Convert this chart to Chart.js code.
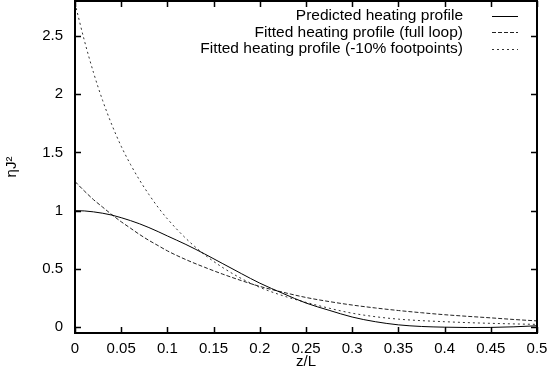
<!DOCTYPE html>
<html>
<head>
<meta charset="utf-8">
<script src="https://cdn.jsdelivr.net/npm/chart.js@4/dist/chart.umd.min.js"></script>
<style>
  html, body { margin: 0; padding: 0; background: #fff; }
  #wrap { width: 549px; height: 378px; }
</style>
</head>
<body>
<div id="wrap"><canvas id="c" width="549" height="378"></canvas></div>
<script>
// z/L sample positions
const zValues = [0, 0.01, 0.02, 0.03, 0.04, 0.05, 0.06, 0.07, 0.08, 0.09, 0.1,
  0.12, 0.14, 0.16, 0.18, 0.2, 0.225, 0.25, 0.275, 0.3, 0.325, 0.35, 0.375,
  0.4, 0.425, 0.45, 0.475, 0.5];

const predicted = [1.0, 0.998, 0.99, 0.978, 0.962, 0.94, 0.915, 0.887, 0.855, 0.82, 0.783,
  0.71, 0.63, 0.545, 0.46, 0.378, 0.29, 0.207, 0.145, 0.087, 0.047, 0.02, 0.006,
  0.0, -0.003, -0.002, 0.003, 0.012];

const fittedFull = [1.25, 1.17, 1.095, 1.03, 0.965, 0.905, 0.85, 0.795, 0.745, 0.70, 0.655,
  0.58, 0.515, 0.455, 0.40, 0.35, 0.30, 0.255, 0.22, 0.19, 0.165, 0.143, 0.124,
  0.107, 0.093, 0.08, 0.066, 0.054];

const fittedFoot = [2.78, 2.465, 2.186, 1.944, 1.735, 1.553, 1.398, 1.261, 1.139, 1.028, 0.93,
  0.762, 0.624, 0.511, 0.418, 0.342, 0.27, 0.213, 0.163, 0.12, 0.09, 0.069, 0.056,
  0.047, 0.039, 0.033, 0.028, 0.024];

const seriesLabels = ['Predicted heating profile', 'Fitted heating profile (full loop)', 'Fitted heating profile (-10% footpoints)'];
const xTicks = [0, 0.05, 0.1, 0.15, 0.2, 0.25, 0.3, 0.35, 0.4, 0.45, 0.5];
const yTicks = [0, 0.5, 1, 1.5, 2, 2.5];

const FONT = 'Liberation Sans, Arial, Helvetica, sans-serif';

function pts(ys) { return zValues.map((z, i) => ({ x: z, y: ys[i] })); }

const styles = [
  { color: '#000', dash: [] },
  { color: '#222', dash: [4, 2] },
  { color: '#333', dash: [2, 3] }
];

function noPad(s) { s.paddingTop = 0; s.paddingBottom = 0; s.paddingLeft = 0; s.paddingRight = 0; }

const framePlugin = {
  id: 'frame',
  afterDatasetsDraw(chart) {
    const ctx = chart.ctx;
    const a = chart.chartArea;
    const xs = chart.scales.x, ys = chart.scales.y;
    ctx.save();
    ctx.strokeStyle = '#000';
    ctx.lineWidth = 1.5;
    const tl = 6;
    ctx.beginPath();
    xTicks.forEach(v => {
      const px = Math.round(xs.getPixelForValue(v)) + 0.5;
      ctx.moveTo(px, a.bottom); ctx.lineTo(px, a.bottom - tl);
      ctx.moveTo(px, a.top); ctx.lineTo(px, a.top + tl);
    });
    yTicks.forEach(v => {
      const py = Math.round(ys.getPixelForValue(v)) + 0.5;
      ctx.moveTo(a.left, py); ctx.lineTo(a.left + tl, py);
      ctx.moveTo(a.right, py); ctx.lineTo(a.right - tl, py);
    });
    ctx.stroke();
    ctx.lineWidth = 2;
    ctx.strokeRect(a.left, a.top, a.right - a.left, a.bottom - a.top);

    // legend
    ctx.font = '15.5px ' + FONT;
    ctx.fillStyle = '#000';
    ctx.textAlign = 'right';
    ctx.textBaseline = 'middle';
    chart.data.datasets.forEach((ds, i) => {
      const y = a.top + 15 + i * 16.3;
      ctx.fillText(ds.label, a.right - 74, y);
      ctx.save();
      ctx.strokeStyle = ds.borderColor;
      ctx.lineWidth = 1;
      ctx.setLineDash(ds.borderDash || []);
      ctx.beginPath();
      ctx.moveTo(a.right - 45, Math.round(y) + 0.5);
      ctx.lineTo(a.right - 19, Math.round(y) + 0.5);
      ctx.stroke();
      ctx.restore();
    });
    ctx.restore();
  }
};

new Chart(document.getElementById('c'), {
  type: 'line',
  data: {
    datasets: [predicted, fittedFull, fittedFoot].map((ys, i) => ({
      label: seriesLabels[i],
      data: pts(ys),
      borderColor: styles[i].color,
      borderDash: styles[i].dash,
      borderWidth: 1,
      pointRadius: 0,
      fill: false,
      cubicInterpolationMode: 'monotone'
    }))
  },
  options: {
    responsive: false,
    animation: false,
    devicePixelRatio: 1,
    layout: { padding: { top: 1, right: 12, left: 0, bottom: 0 } },
    plugins: { legend: { display: false }, tooltip: { enabled: false } },
    scales: {
      x: {
        type: 'linear', min: 0, max: 0.5,
        afterFit(s) { s.height = 45; noPad(s); },
        afterBuildTicks(s) { s.ticks = xTicks.map(v => ({ value: v })); },
        grid: { display: false, drawTicks: false },
        border: { display: false },
        ticks: { color: '#000', font: { family: FONT, size: 15 }, padding: 7, maxRotation: 0,
                 callback: v => String(v) },
        title: { display: true, text: 'z/L', color: '#000', font: { family: FONT, size: 15 }, padding: { top: 0, bottom: 7 } }
      },
      y: {
        type: 'linear', min: -0.05, max: 2.8,
        afterFit(s) { s.width = 75; noPad(s); },
        afterBuildTicks(s) { s.ticks = yTicks.map(v => ({ value: v })); },
        grid: { display: false, drawTicks: false },
        border: { display: false },
        ticks: { color: '#000', font: { family: FONT, size: 15 }, padding: 12,
                 callback: v => String(v) },
        title: { display: true, text: 'ηJ²', color: '#000', font: { family: FONT, size: 15 }, padding: { top: 3, bottom: 0 } }
      }
    }
  },
  plugins: [framePlugin]
});
</script>
</body>
</html>
